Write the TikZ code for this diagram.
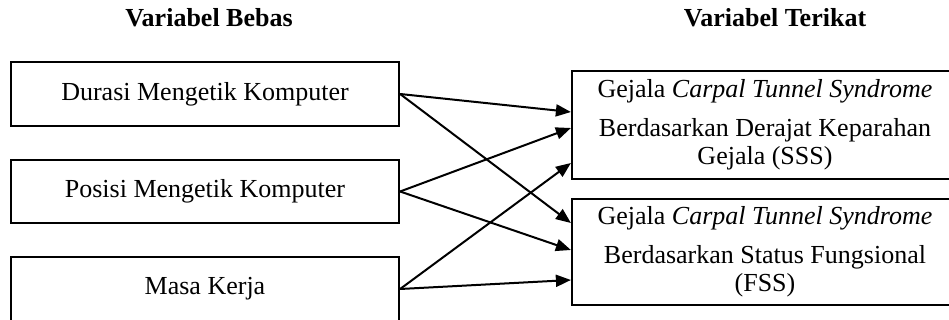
\documentclass[tikz,border=0pt]{standalone}
\usepackage{fontspec}
\setmainfont{Liberation Serif}
\usetikzlibrary{arrows.meta}

\begin{document}
\begin{tikzpicture}[x=1pt,y=-1pt,
    >={Triangle[length=15pt,width=12pt]},
    box/.style={draw,line width=2.2pt,inner sep=0pt,font=\fontsize{26}{28}\selectfont},
    head/.style={font=\fontsize{26}{30}\selectfont\bfseries}]
  \useasboundingbox (0,0) rectangle (949,320);

  \node[head,anchor=base] (bebas) at (209,27) {Variabel Bebas};
  \node[head,anchor=base] (terikat) at (775,27) {Variabel Terikat};

  \node[box,minimum width=388pt,minimum height=64pt] (durasi) at (205,94) {Durasi Mengetik Komputer};
  \node[box,minimum width=388pt,minimum height=63pt] (posisi) at (205,191.5) {Posisi Mengetik Komputer};
  \node[box,minimum width=388pt,minimum height=64pt] (masa) at (205,289) {Masa Kerja};

  \node[box,minimum width=386pt,minimum height=108pt,align=center] (sss) at (765,125)
    {Gejala \textit{Carpal Tunnel Syndrome}\\[11pt] Berdasarkan Derajat Keparahan\\ Gejala (SSS)};
  \node[box,minimum width=386pt,minimum height=106pt,align=center] (fss) at (765,252)
    {Gejala \textit{Carpal Tunnel Syndrome}\\[11pt] Berdasarkan Status Fungsional\\ (FSS)};

  \path[->,line width=2pt] (durasi.east) edge ([yshift=13pt]sss.west)
                                         edge ([yshift=29pt]fss.west);
  \path[->,line width=2pt] (posisi.east) edge ([yshift=-3pt]sss.west)
                                         edge ([yshift=2pt]fss.west);
  \path[->,line width=2pt] (masa.east) edge ([yshift=-38pt]sss.west)
                                       edge ([yshift=-28pt]fss.west);
    %edge [dashed,-] (posisi.east);
\end{tikzpicture}
\end{document}
